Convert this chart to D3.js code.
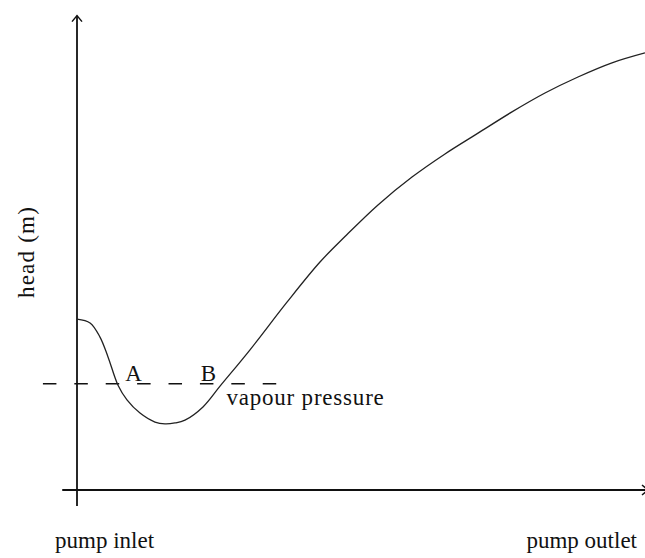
<!DOCTYPE html>
<html lang="en">

<head>
  <meta charset="UTF-8">
  <title>Pump head</title>
  <script src="https://d3js.org/d3.v7.min.js"></script>
  <style>
    body { margin: 0; background: white; }
    text { font-family: "Liberation Serif", "Times New Roman", serif; font-size: 23px; fill: #111; }
  </style>
</head>

<body>
  <div id="chart"></div>

  <script>
    // position along the pump (0 = inlet, 100 = outlet) and head values
    const position = [0, 2.3, 4.05, 5.46, 7.22, 8.8, 11.09, 13.73, 15.49, 17.25, 19.01, 22.18, 25.18, 30.46, 36.97, 42.78, 47.18, 52.99, 58.98, 64.79, 70.6, 76.58, 82.39, 88.2, 94.19, 100];
    const head = [36.2, 35.4, 32.4, 28.2, 22.2, 19.1, 16.3, 14.4, 14.0, 14.2, 14.8, 17.6, 22.0, 29.7, 39.8, 48.3, 53.7, 60.4, 66.3, 71.2, 75.6, 80.1, 84.1, 87.5, 90.5, 92.6];
    const vapourHead = 22.5;
    const vapourSpan = [-6, 35.2];
    const points = [{ label: "A", pos: 8.5 }, { label: "B", pos: 21.8 }];

    const width = 645, height = 558;

    const svg = d3.select("#chart")
      .append("svg")
      .attr("width", width)
      .attr("height", height);

    const x = d3.scaleLinear().domain([0, 100]).range([77, 645]);
    const y = d3.scaleLinear().domain([0, 100]).range([490, 18]);

    // axes
    svg.append("line")
      .attr("x1", x(0)).attr("x2", x(0))
      .attr("y1", y(-3.4)).attr("y2", y(100.5))
      .attr("stroke", "#111").attr("stroke-width", 1.8);

    svg.append("line")
      .attr("x1", x(-2.6)).attr("x2", x(100))
      .attr("y1", y(0)).attr("y2", y(0))
      .attr("stroke", "#111").attr("stroke-width", 1.8);

    // arrow heads
    svg.append("path")
      .attr("d", `M${x(0) - 5},${y(100.5) + 6} L${x(0)},${y(100.5)} L${x(0) + 5},${y(100.5) + 6}`)
      .attr("fill", "none").attr("stroke", "#111").attr("stroke-width", 1.5);

    svg.append("path")
      .attr("d", `M${x(100) - 3},${y(0) - 5} L${x(100) + 3},${y(0)} L${x(100) - 3},${y(0) + 5}`)
      .attr("fill", "none").attr("stroke", "#111").attr("stroke-width", 1.5);

    // vapour pressure line
    svg.append("line")
      .attr("x1", x(vapourSpan[0])).attr("x2", x(vapourSpan[1]))
      .attr("y1", y(vapourHead)).attr("y2", y(vapourHead))
      .attr("stroke", "#111").attr("stroke-width", 1.5)
      .attr("stroke-dasharray", "13.5,17.9");

    // head curve
    const line = d3.line()
      .x((d, i) => x(position[i]))
      .y(d => y(d))
      .curve(d3.curveCatmullRom.alpha(0.5));

    svg.append("path")
      .datum(head)
      .attr("d", line)
      .attr("fill", "none")
      .attr("stroke", "#222")
      .attr("stroke-width", 1.3);

    // labels
    svg.selectAll(".pt")
      .data(points)
      .enter()
      .append("text")
      .attr("class", "pt")
      .attr("x", d => x(d.pos))
      .attr("y", y(vapourHead) - 3)
      .text(d => d.label);

    svg.append("text")
      .attr("x", x(26.3))
      .attr("y", y(vapourHead) + 21)
      .attr("letter-spacing", 0.8)
      .text("vapour pressure");

    svg.append("text")
      .attr("x", 55)
      .attr("y", 548)
      .text("pump inlet");

    svg.append("text")
      .attr("x", 637)
      .attr("y", 548)
      .attr("text-anchor", "end")
      .text("pump outlet");

    svg.append("text")
      .attr("transform", "rotate(-90)")
      .attr("x", -252)
      .attr("y", 34)
      .attr("text-anchor", "middle")
      .attr("letter-spacing", 1.2)
      .text("head (m)");
  </script>
</body>

</html>
